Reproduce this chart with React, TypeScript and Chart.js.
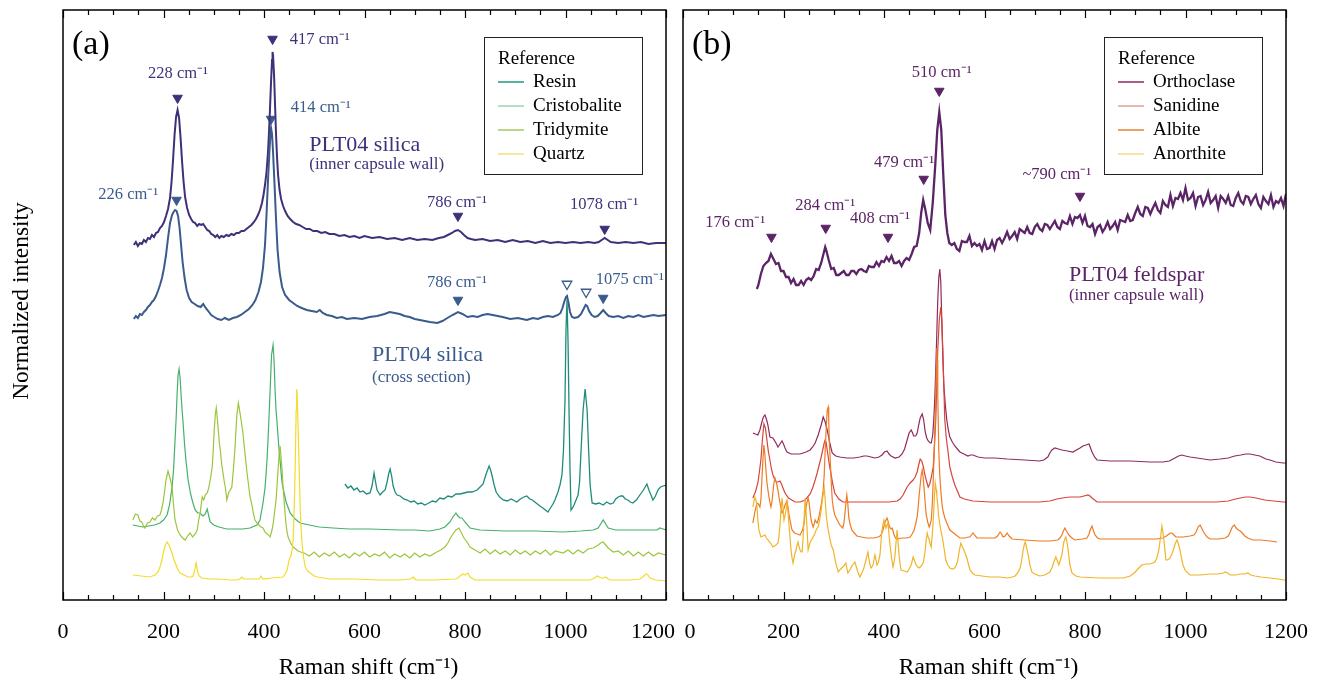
import React, { useEffect, useRef } from 'react';
import { Chart, registerables } from 'chart.js';
Chart.register(...registerables);

type P = [number, number];

// ---------- axis ----------
const xMajorTicks = [0, 200, 400, 600, 800, 1000, 1200];
const xTickLabels = ['0', '200', '400', '600', '800', '1000', '1200'];
const xMinorStep = 50;

// ---------- panel (a): silica ----------
const silicaInnerWall: P[] = [[141,355],[145,358],[149,354],[153,357],[157,356],[161,360],[165,358],[169,362],[173,361],[177,365],[181,363],[185,367],[189,368],[193,372],[197,374],[201,378],[205,384],[209,391],[213,402],[216,418],[219,440],[222,465],[225,483],[228,490],[231,482],[234,462],[237,438],[240,418],[243,403],[247,392],[251,385],[255,381],[259,378],[263,377],[267,374],[271,376],[275,375],[279,376],[283,373],[287,370],[291,369],[295,366],[299,365],[303,363],[307,365],[311,362],[315,364],[320,363],[325,365],[330,364],[335,366],[340,365],[345,367],[350,367],[355,369],[360,369],[365,371],[370,373],[375,375],[380,378],[384,381],[388,385],[392,390],[396,397],[399,405],[402,415],[405,428],[408,448],[410,468],[412,492],[414,518],[416,540],[417,548],[418,545],[420,525],[422,495],[424,465],[426,442],[428,425],[431,410],[434,401],[438,394],[442,389],[447,384],[452,381],[458,378],[464,376],[470,375],[477,373],[484,371],[491,371],[498,369],[506,369],[514,367],[522,368],[530,366],[540,366],[550,364],[560,365],[570,363],[580,364],[590,362],[600,364],[615,362],[630,363],[645,361],[660,362],[675,360],[690,362],[705,360],[720,361],[735,360],[748,362],[758,363],[766,365],[774,367],[780,369],[786,370],[792,368],[798,365],[805,362],[812,361],[820,360],[835,361],[850,359],[865,360],[880,358],[895,360],[910,358],[925,359],[940,357],[955,359],[970,357],[985,358],[1000,357],[1015,358],[1030,357],[1045,358],[1058,357],[1066,358],[1072,360],[1078,362],[1084,360],[1090,358],[1105,357],[1120,358],[1135,357],[1150,358],[1165,356],[1180,357],[1200,357]];

const silicaCrossSection: P[] = [[141,281],[145,284],[149,282],[153,286],[157,285],[161,288],[165,290],[169,293],[173,295],[177,298],[181,300],[185,304],[189,309],[193,315],[197,322],[201,332],[205,345],[209,362],[213,377],[217,385],[220,388],[223,390],[226,389],[229,384],[232,372],[235,355],[238,338],[242,322],[246,310],[251,302],[256,298],[262,296],[268,294],[274,293],[279,296],[284,292],[289,289],[295,285],[301,283],[308,281],[315,280],[322,282],[330,280],[338,282],[346,283],[354,285],[362,288],[370,291],[377,295],[383,300],[389,308],[394,318],[398,332],[402,355],[405,385],[408,420],[411,450],[413,468],[414,472],[416,466],[418,448],[421,415],[424,380],[427,350],[431,328],[436,313],[442,305],[450,300],[458,297],[466,294],[475,292],[485,290],[495,289],[505,288],[511,290],[517,287],[525,285],[535,284],[545,282],[555,283],[565,281],[580,282],[595,281],[610,283],[625,284],[640,286],[650,288],[660,287],[670,286],[680,284],[690,283],[700,281],[710,280],[720,279],[730,278],[745,277],[755,279],[765,282],[775,285],[786,288],[795,286],[805,283],[815,284],[825,283],[835,285],[845,286],[855,285],[865,284],[875,283],[890,281],[905,282],[923,280],[935,282],[945,281],[955,283],[965,284],[975,283],[985,285],[990,287],[994,292],[998,299],[1001,303],[1003,304],[1006,297],[1009,288],[1013,283],[1018,282],[1025,283],[1031,286],[1036,291],[1040,295],[1043,294],[1047,289],[1052,285],[1058,283],[1064,284],[1070,287],[1075,290],[1080,287],[1086,284],[1095,283],[1105,284],[1115,282],[1125,284],[1135,283],[1145,285],[1155,283],[1165,284],[1175,285],[1185,284],[1200,285]];

const resin: P[] = [[561,116],[567,112],[573,114],[579,110],[585,112],[591,108],[597,109],[604,106],[611,107],[615,114],[619,127],[622,118],[625,110],[631,105],[636,108],[641,110],[645,118],[648,126],[651,131],[654,124],[657,114],[661,108],[665,105],[671,104],[678,101],[685,100],[692,98],[699,99],[706,96],[713,97],[720,95],[728,97],[735,99],[742,98],[750,102],[758,101],[766,104],[774,103],[782,106],[790,106],[798,107],[806,108],[814,108],[824,110],[830,113],[836,116],[842,126],[848,134],[851,130],[854,124],[858,115],[862,108],[869,103],[876,100],[884,99],[892,101],[903,98],[910,101],[917,103],[923,104],[929,101],[934,100],[939,98],[944,96],[949,94],[955,92],[960,90],[965,88],[970,92],[975,96],[979,100],[985,108],[989,115],[993,125],[996,150],[999,200],[1001,270],[1003,300],[1005,260],[1007,190],[1009,130],[1011,90],[1014,92],[1017,95],[1021,100],[1025,105],[1028,118],[1031,150],[1035,190],[1039,211],[1043,190],[1046,150],[1049,115],[1053,97],[1060,96],[1067,97],[1075,95],[1082,98],[1089,96],[1095,97],[1100,101],[1105,103],[1110,104],[1114,104],[1119,101],[1124,100],[1129,98],[1134,97],[1141,100],[1148,105],[1155,110],[1162,116],[1166,110],[1170,105],[1174,100],[1179,104],[1184,110],[1189,113],[1194,114],[1200,115]];

const cristobalite: P[] = [[139,75],[149,74],[159,73],[170,74],[182,75],[193,77],[200,80],[207,85],[212,95],[217,113],[220,130],[223,160],[225,180],[227,205],[229,225],[231,231],[233,222],[235,205],[237,190],[239,177],[242,155],[245,138],[249,120],[254,106],[258,98],[263,90],[268,87],[273,87],[276,85],[279,84],[283,86],[287,91],[290,84],[293,78],[300,75],[310,73],[326,71],[342,71],[358,71],[372,72],[386,75],[392,80],[398,97],[402,112],[404,125],[406,140],[408,160],[411,195],[413,220],[415,245],[418,255],[420,240],[422,210],[424,190],[426,177],[430,150],[436,117],[444,98],[452,87],[462,81],[472,77],[490,75],[510,73],[537,72],[570,71],[610,71],[671,70],[700,70],[730,69],[750,71],[760,73],[770,78],[776,83],[782,87],[786,84],[790,82],[794,82],[800,78],[810,72],[830,70],[880,69],[940,69],[995,68],[1030,69],[1055,70],[1065,72],[1070,76],[1075,80],[1080,76],[1085,72],[1100,70],[1140,70],[1182,70],[1188,72],[1194,71],[1200,70]];

const tridymite: P[] = [[139,80],[144,86],[149,85],[153,79],[157,78],[160,74],[163,72],[168,77],[173,78],[178,82],[183,80],[188,84],[193,85],[196,90],[199,97],[202,108],[205,120],[209,129],[213,122],[217,113],[220,95],[223,80],[228,70],[233,65],[238,62],[243,60],[248,64],[253,67],[258,63],[263,66],[267,70],[270,80],[273,87],[277,103],[280,100],[283,105],[287,107],[290,112],[293,120],[297,133],[299,150],[301,170],[303,185],[305,192],[307,182],[309,170],[311,158],[313,150],[316,135],[319,125],[321,118],[323,113],[326,100],[328,104],[330,108],[333,110],[336,113],[339,130],[342,150],[344,168],[346,185],[349,197],[352,188],[355,178],[358,167],[361,152],[364,138],[366,128],[368,120],[372,104],[376,95],[379,86],[382,80],[386,77],[390,75],[394,73],[398,72],[402,68],[406,66],[409,65],[412,63],[415,68],[418,75],[421,88],[424,100],[426,115],[428,130],[430,145],[432,154],[434,142],[436,130],[438,112],[440,100],[442,86],[444,75],[446,68],[448,63],[453,57],[458,53],[463,51],[468,49],[473,48],[480,47],[490,44],[500,48],[510,43],[520,47],[530,44],[540,48],[550,43],[560,46],[570,42],[580,47],[590,44],[600,48],[610,43],[620,46],[630,44],[640,48],[650,42],[660,46],[671,43],[680,46],[690,42],[700,47],[710,43],[720,46],[730,44],[744,48],[752,50],[760,53],[766,57],[770,61],[776,66],[782,70],[788,72],[793,67],[798,62],[804,58],[810,53],[820,50],[830,47],[840,51],[850,46],[860,50],[870,46],[880,49],[890,45],[900,50],[910,46],[920,49],[930,45],[940,49],[950,46],[960,50],[970,45],[980,49],[995,47],[1005,50],[1015,46],[1025,50],[1035,47],[1045,51],[1055,52],[1065,55],[1070,57],[1075,58],[1080,55],[1085,52],[1095,48],[1105,49],[1115,45],[1125,49],[1135,44],[1145,48],[1155,44],[1165,48],[1175,44],[1185,47],[1200,45]];

const quartz: P[] = [[139,25],[156,24],[173,23],[183,25],[189,28],[193,33],[197,40],[200,48],[203,54],[207,58],[211,55],[214,51],[217,47],[221,40],[225,35],[229,30],[233,27],[241,25],[249,23],[255,23],[259,24],[262,30],[265,37],[268,28],[271,24],[276,22],[290,21],[310,21],[332,20],[345,20],[352,21],[356,23],[360,21],[375,21],[390,21],[394,24],[398,21],[415,22],[438,23],[442,26],[446,30],[450,40],[454,45],[456,50],[458,60],[460,90],[462,130],[464,190],[465,211],[466,205],[468,170],[470,130],[472,93],[474,70],[476,55],[479,42],[482,33],[487,29],[492,27],[500,24],[506,23],[530,21],[580,21],[630,20],[671,20],[691,21],[697,23],[702,20],[740,20],[780,21],[786,22],[790,24],[796,26],[800,25],[803,26],[806,27],[810,23],[820,20],[900,20],[1000,20],[1049,20],[1058,22],[1063,24],[1067,23],[1071,22],[1076,22],[1080,23],[1085,21],[1090,20],[1130,20],[1148,21],[1154,23],[1160,26],[1164,25],[1168,22],[1180,20],[1200,19]];

const innerWallPeaks: P[] = [[228,502],[417,561],[786,384],[1078,371]];
const crossPeaksFilled: P[] = [[226,400],[414,481],[786,300],[1075,302]];
const crossPeaksOpen: P[] = [[1003,316],[1041,308]];

// ---------- panel (b): feldspar ----------
const feldsparInnerWall: P[] = [[147,311],[150,315],[155,326],[160,334],[165,337],[170,339],[175,346],[180,341],[185,336],[190,337],[195,329],[200,329],[205,323],[210,323],[215,317],[220,321],[225,315],[230,315],[235,319],[240,315],[245,320],[250,322],[255,320],[260,324],[265,331],[270,330],[275,337],[280,347],[283,353],[285,350],[290,340],[295,331],[300,332],[305,325],[310,325],[315,327],[320,329],[325,325],[330,325],[335,329],[340,329],[345,326],[350,330],[355,331],[360,329],[365,328],[370,334],[375,333],[380,333],[385,338],[390,334],[395,339],[400,338],[405,343],[410,339],[415,344],[420,337],[425,337],[430,339],[435,334],[440,339],[445,342],[450,340],[455,346],[460,353],[465,354],[470,367],[474,387],[478,400],[482,391],[487,377],[492,370],[497,397],[502,435],[506,470],[510,488],[514,470],[518,425],[522,385],[526,367],[530,357],[535,355],[540,357],[545,351],[550,349],[555,359],[560,358],[565,358],[570,364],[575,354],[580,357],[585,354],[590,356],[595,350],[600,359],[605,351],[610,352],[615,359],[620,351],[625,360],[630,362],[635,357],[640,362],[645,368],[650,361],[655,364],[660,368],[665,361],[670,371],[675,369],[680,367],[685,373],[690,367],[695,366],[700,373],[705,376],[710,371],[715,369],[720,376],[725,375],[730,371],[735,375],[740,379],[745,373],[750,371],[755,379],[760,377],[765,376],[770,384],[775,376],[780,383],[785,382],[790,385],[795,377],[800,384],[805,374],[810,373],[815,376],[820,366],[825,373],[830,375],[835,368],[840,372],[845,378],[850,371],[855,374],[860,378],[865,370],[870,380],[875,379],[880,378],[885,385],[890,379],[895,380],[900,387],[905,393],[910,386],[915,384],[920,393],[925,392],[930,386],[935,392],[940,397],[945,390],[950,387],[955,399],[960,395],[965,393],[970,405],[975,394],[980,402],[985,401],[990,407],[995,400],[1000,412],[1005,400],[1010,402],[1015,407],[1020,394],[1025,403],[1030,404],[1035,395],[1040,400],[1045,408],[1050,397],[1055,400],[1060,404],[1065,392],[1070,404],[1075,401],[1080,397],[1085,404],[1090,395],[1095,394],[1100,402],[1105,407],[1110,399],[1115,396],[1120,404],[1125,403],[1130,396],[1135,401],[1140,405],[1145,396],[1150,392],[1155,403],[1160,399],[1165,396],[1170,405],[1175,393],[1180,399],[1185,397],[1190,402],[1195,394],[1200,406]];

const orthoclase: P[] = [[139,167],[149,165],[153,170],[157,178],[160,183],[163,185],[166,181],[169,175],[173,163],[179,162],[185,157],[189,153],[193,156],[197,159],[200,156],[203,152],[207,148],[215,146],[233,146],[245,148],[253,150],[258,153],[263,157],[269,165],[275,175],[279,183],[283,178],[287,170],[293,155],[297,147],[304,144],[312,143],[326,142],[340,142],[352,143],[360,144],[366,144],[374,143],[382,142],[390,143],[396,145],[401,148],[406,149],[410,146],[414,144],[422,142],[430,143],[436,146],[441,151],[446,160],[450,167],[454,170],[457,167],[459,164],[463,164],[466,167],[469,175],[472,182],[476,186],[479,180],[482,168],[485,162],[488,159],[492,157],[494,157],[497,165],[499,180],[501,200],[503,230],[505,265],[507,300],[509,322],[511,331],[513,318],[515,280],[517,245],[519,215],[522,195],[525,180],[528,170],[531,163],[536,158],[541,154],[546,151],[551,148],[559,146],[567,144],[572,145],[577,145],[582,144],[587,143],[600,142],[620,142],[645,141],[680,140],[710,139],[718,140],[726,143],[730,147],[734,150],[740,152],[747,151],[754,150],[765,149],[776,148],[783,150],[790,152],[796,154],[802,155],[808,156],[811,152],[814,148],[819,143],[824,140],[850,139],[890,139],[930,138],[955,138],[968,139],[979,142],[986,144],[993,145],[1000,144],[1009,143],[1023,142],[1036,141],[1049,140],[1069,141],[1085,142],[1098,144],[1110,145],[1120,146],[1128,146],[1138,145],[1148,144],[1160,141],[1168,140],[1180,138],[1194,137],[1200,137]];

const sanidine: P[] = [[139,102],[144,108],[149,117],[152,128],[155,140],[158,160],[161,176],[164,172],[167,160],[170,148],[173,140],[176,131],[179,125],[183,120],[186,118],[189,118],[193,119],[196,116],[199,112],[203,107],[210,102],[223,98],[233,98],[243,100],[253,106],[258,112],[263,120],[267,127],[271,135],[275,143],[278,150],[281,157],[283,160],[285,157],[287,150],[289,143],[292,133],[295,125],[298,116],[302,107],[310,101],[318,98],[340,98],[378,98],[410,98],[426,99],[432,101],[438,105],[442,109],[446,113],[452,117],[458,120],[462,123],[466,128],[469,135],[472,141],[475,139],[478,134],[481,126],[484,120],[488,113],[491,116],[494,122],[496,128],[498,133],[500,150],[503,180],[505,215],[507,250],[510,280],[513,293],[515,280],[517,250],[519,215],[521,180],[524,162],[527,150],[531,133],[536,123],[541,115],[546,109],[551,103],[560,101],[577,99],[611,98],[660,98],[710,98],[730,99],[744,101],[755,102],[770,103],[780,103],[790,103],[798,104],[806,105],[810,104],[814,102],[824,98],[870,98],[950,98],[1020,98],[1063,98],[1085,99],[1100,101],[1109,102],[1120,103],[1128,103],[1140,102],[1158,100],[1175,99],[1194,98],[1200,98]];

const albite: P[] = [[139,77],[143,88],[147,97],[150,96],[153,93],[155,100],[157,120],[159,140],[161,155],[163,145],[165,130],[167,118],[169,110],[172,100],[175,93],[177,98],[179,108],[181,117],[183,122],[186,117],[189,110],[192,100],[195,92],[197,87],[200,90],[203,95],[205,97],[207,99],[209,93],[211,85],[214,77],[217,70],[222,67],[227,66],[233,65],[238,70],[241,77],[243,87],[245,93],[247,98],[249,102],[251,97],[253,88],[255,80],[257,76],[259,73],[261,76],[263,80],[265,78],[267,77],[270,82],[273,90],[276,98],[279,110],[281,125],[283,150],[285,172],[287,190],[289,193],[290,180],[291,160],[293,140],[295,118],[297,100],[299,92],[302,85],[307,80],[312,75],[318,72],[320,76],[322,85],[324,96],[326,105],[328,96],[330,82],[333,75],[336,70],[341,67],[346,64],[355,63],[365,62],[372,62],[380,62],[388,63],[392,64],[395,66],[398,70],[400,74],[402,78],[404,80],[406,82],[408,79],[410,75],[412,72],[414,71],[416,72],[418,69],[420,65],[423,62],[426,61],[435,62],[445,62],[452,63],[456,66],[460,70],[463,76],[466,83],[468,93],[470,105],[472,115],[474,125],[476,130],[478,122],[480,110],[482,97],[484,85],[487,78],[490,73],[492,76],[494,80],[496,95],[498,120],[500,150],[502,183],[504,230],[505,252],[506,240],[507,205],[509,150],[511,125],[513,110],[515,98],[517,90],[521,82],[525,77],[531,70],[541,66],[551,62],[561,62],[568,63],[571,63],[574,65],[577,67],[580,65],[585,62],[600,62],[621,62],[626,64],[631,68],[634,66],[637,63],[641,64],[645,67],[649,64],[655,61],[680,60],[710,59],[730,59],[746,60],[750,62],[754,65],[757,69],[760,72],[763,69],[768,65],[774,62],[780,60],[795,61],[804,62],[808,66],[811,71],[814,74],[817,69],[820,65],[825,62],[830,61],[870,61],[910,61],[943,61],[955,62],[962,64],[967,66],[970,67],[973,67],[977,65],[981,63],[995,63],[1009,64],[1017,65],[1021,68],[1025,73],[1029,75],[1033,71],[1037,67],[1043,63],[1049,61],[1065,61],[1079,62],[1085,64],[1089,68],[1093,73],[1097,75],[1101,72],[1105,70],[1109,69],[1113,67],[1118,64],[1124,62],[1134,60],[1150,60],[1168,59],[1182,58]];

const anorthite: P[] = [[139,93],[141,98],[143,103],[145,100],[147,95],[149,80],[151,70],[155,63],[159,64],[163,65],[166,62],[169,60],[174,57],[179,53],[182,54],[185,55],[189,57],[191,64],[193,75],[195,90],[197,102],[199,92],[201,80],[203,84],[205,90],[207,98],[209,88],[211,75],[213,62],[215,50],[217,42],[219,37],[222,45],[225,50],[227,55],[229,58],[231,53],[233,50],[235,48],[237,48],[239,62],[241,80],[243,102],[245,88],[247,70],[249,50],[252,56],[255,60],[257,61],[259,63],[262,66],[265,70],[267,72],[269,73],[272,80],[275,90],[278,102],[281,112],[283,100],[285,85],[287,77],[289,70],[292,62],[295,55],[299,50],[302,42],[305,35],[309,28],[312,30],[316,32],[320,34],[324,37],[326,32],[328,27],[332,30],[336,34],[339,36],[342,38],[345,33],[348,28],[352,23],[356,27],[360,32],[364,40],[368,48],[371,38],[374,32],[376,33],[378,35],[380,40],[382,45],[384,40],[386,35],[389,38],[392,45],[394,58],[396,70],[398,76],[400,80],[402,76],[404,72],[406,75],[408,77],[410,65],[412,55],[415,42],[418,33],[420,38],[422,45],[424,58],[426,70],[428,58],[430,45],[432,36],[434,30],[440,29],[446,28],[450,31],[454,35],[456,39],[458,43],[461,39],[464,35],[467,33],[470,32],[474,34],[478,37],[480,43],[482,50],[484,60],[486,67],[488,63],[490,60],[492,56],[494,53],[496,65],[498,80],[500,100],[502,117],[504,110],[505,105],[507,95],[509,83],[511,76],[513,70],[515,65],[517,60],[520,50],[523,40],[527,35],[531,32],[536,31],[541,32],[544,35],[547,40],[550,50],[553,57],[556,53],[559,50],[562,46],[565,42],[568,36],[571,30],[576,27],[581,25],[595,24],[611,23],[630,23],[645,22],[655,23],[661,24],[666,27],[671,32],[674,40],[677,50],[679,55],[681,58],[684,52],[687,45],[690,36],[694,28],[700,26],[710,24],[720,25],[730,28],[734,32],[738,38],[742,43],[745,39],[748,35],[751,40],[754,45],[756,52],[758,58],[760,61],[762,63],[764,58],[766,52],[768,43],[770,35],[774,27],[782,24],[790,23],[830,22],[876,22],[890,24],[900,28],[907,32],[913,35],[921,36],[929,36],[935,37],[939,38],[943,42],[947,50],[949,58],[951,65],[953,74],[955,68],[957,60],[959,50],[961,40],[964,40],[967,41],[969,42],[973,46],[977,52],[980,57],[983,60],[986,56],[989,50],[992,42],[995,35],[1000,29],[1009,25],[1030,25],[1049,26],[1065,26],[1075,27],[1079,28],[1084,27],[1089,25],[1100,25],[1109,26],[1118,26],[1124,27],[1130,25],[1138,24],[1150,23],[1168,22],[1185,21],[1194,20],[1200,20]];

const feldsparPeaks: P[] = [[176,363],[284,372],[408,363],[479,421],[510,509],[790,404]];

// ---------- colours ----------
const C = {
  inner: '#40307a',
  cross: '#3a5b8c',
  resin: '#1f8c7a',
  cristobalite: '#46b06a',
  tridymite: '#9cc53c',
  quartz: '#f2dc2a',
  feldspar: '#5b2466',
  orthoclase: '#8e2a5e',
  sanidine: '#d6453a',
  albite: '#ee7b25',
  anorthite: '#f0b429',
};

const SERIF = '"Liberation Serif", "Times New Roman", serif';

type TextItem = { t: string; x: number; y: number; c: string; s: number; a?: CanvasTextAlign };

const textsA: TextItem[] = [
  { t: '(a)', x: 18, y: 555, c: '#000', s: 34, a: 'left' },
  { t: 'PLT04 silica', x: 490, y: 455, c: C.inner, s: 22, a: 'left' },
  { t: '(inner capsule wall)', x: 490, y: 435, c: C.inner, s: 17, a: 'left' },
  { t: 'PLT04 silica', x: 615, y: 245, c: C.cross, s: 22, a: 'left' },
  { t: '(cross section)', x: 615, y: 222, c: C.cross, s: 17, a: 'left' },
  { t: '228 cm⁻¹', x: 229, y: 526, c: C.inner, s: 16.5 },
  { t: '417 cm⁻¹', x: 511, y: 560, c: C.inner, s: 16.5 },
  { t: '786 cm⁻¹', x: 784, y: 397, c: C.inner, s: 16.5 },
  { t: '1078 cm⁻¹', x: 1077, y: 395, c: C.inner, s: 16.5 },
  { t: '226 cm⁻¹', x: 130, y: 405, c: C.cross, s: 16.5 },
  { t: '414 cm⁻¹', x: 513, y: 492, c: C.cross, s: 16.5 },
  { t: '786 cm⁻¹', x: 784, y: 317, c: C.cross, s: 16.5 },
  { t: '1075 cm⁻¹', x: 1128, y: 320, c: C.cross, s: 16.5 },
];

const textsB: TextItem[] = [
  { t: '(b)', x: 18, y: 555, c: '#000', s: 34, a: 'left' },
  { t: 'PLT04 feldspar', x: 768, y: 325, c: C.feldspar, s: 22, a: 'left' },
  { t: '(inner capsule wall)', x: 768, y: 304, c: C.feldspar, s: 17, a: 'left' },
  { t: '176 cm⁻¹', x: 104, y: 377, c: C.feldspar, s: 16.5 },
  { t: '284 cm⁻¹', x: 283, y: 394, c: C.feldspar, s: 16.5 },
  { t: '408 cm⁻¹', x: 392, y: 381, c: C.feldspar, s: 16.5 },
  { t: '479 cm⁻¹', x: 440, y: 437, c: C.feldspar, s: 16.5 },
  { t: '510 cm⁻¹', x: 515, y: 527, c: C.feldspar, s: 16.5 },
  { t: '~790 cm⁻¹', x: 744, y: 425, c: C.feldspar, s: 16.5 },
];

const legendA = [
  { label: 'Resin', color: '#1f9a80' },
  { label: 'Cristobalite', color: '#9dd5ae' },
  { label: 'Tridymite', color: '#a6c95f' },
  { label: 'Quartz', color: '#f3e27c' },
];
const legendB = [
  { label: 'Orthoclase', color: '#8e2a5e' },
  { label: 'Sanidine', color: '#e0a098' },
  { label: 'Albite', color: '#e8803a' },
  { label: 'Anorthite', color: '#f5d88a' },
];

const line = (data: P[], color: string, width: number) => ({
  data: data.map(([x, y]) => ({ x, y })),
  borderColor: color,
  backgroundColor: color,
  borderWidth: width,
  pointRadius: 0,
  tension: 0,
  fill: false,
});

const markers = (data: P[], color: string, hollow = false) => ({
  data: data.map(([x, y]) => ({ x, y })),
  showLine: false,
  borderColor: color,
  backgroundColor: color,
  pointStyle: 'triangle',
  pointRotation: 180,
  pointRadius: 5.5,
  pointBackgroundColor: hollow ? '#ffffff' : color,
  pointBorderColor: color,
  pointBorderWidth: hollow ? 1.3 : 1,
});

const decor = {
  id: 'decor',
  afterDraw(chart: any, _args: any, opts: any) {
    const { ctx, chartArea: a, scales } = chart;
    const xs = scales.x;
    const ys = scales.y;
    ctx.save();
    ctx.strokeStyle = '#000';
    ctx.lineWidth = 1.5;
    ctx.strokeRect(a.left, a.top, a.right - a.left, a.bottom - a.top);
    ctx.lineWidth = 1.2;
    for (let v = xs.min; v <= xs.max; v += xMinorStep) {
      const px = Math.round(xs.getPixelForValue(v)) + 0.5;
      const len = v % 200 === 0 ? 8 : 5;
      ctx.beginPath();
      ctx.moveTo(px, a.bottom);
      ctx.lineTo(px, a.bottom - len);
      ctx.moveTo(px, a.top);
      ctx.lineTo(px, a.top + len);
      ctx.stroke();
    }
    ctx.fillStyle = '#000';
    ctx.font = `22px ${SERIF}`;
    ctx.textAlign = 'center';
    ctx.textBaseline = 'middle';
    xMajorTicks.forEach((v, i) => {
      const shift = (opts.labelShift && opts.labelShift[i]) || 0;
      ctx.fillText(xTickLabels[i], xs.getPixelForValue(v) + shift, a.bottom + 32);
    });
    ctx.font = `23.5px ${SERIF}`;
    ctx.fillText('Raman shift (cm⁻¹)', (a.left + a.right) / 2 + 4, a.bottom + 68);
    if (opts.yTitle) {
      ctx.save();
      ctx.translate(22, (a.top + a.bottom) / 2 - 4);
      ctx.rotate(-Math.PI / 2);
      ctx.fillText(opts.yTitle, 0, 0);
      ctx.restore();
    }
    (opts.texts as TextItem[]).forEach((t) => {
      ctx.fillStyle = t.c;
      ctx.font = `${t.s}px ${SERIF}`;
      ctx.textAlign = t.a || 'center';
      ctx.textBaseline = 'middle';
      ctx.fillText(t.t, xs.getPixelForValue(t.x), ys.getPixelForValue(t.y));
    });
    const L = opts.legend;
    const bx = a.left + 421;
    const by = 37;
    ctx.fillStyle = '#fff';
    ctx.fillRect(bx, by, 158, 137);
    ctx.strokeStyle = '#222';
    ctx.lineWidth = 1;
    ctx.strokeRect(bx + 0.5, by + 0.5, 158, 137);
    ctx.fillStyle = '#000';
    ctx.font = `19px ${SERIF}`;
    ctx.textAlign = 'left';
    ctx.textBaseline = 'middle';
    ctx.fillText('Reference', bx + 14, by + 22);
    L.forEach((it: any, i: number) => {
      const yy = by + 45 + i * 24;
      ctx.strokeStyle = it.color;
      ctx.lineWidth = 1.5;
      ctx.beginPath();
      ctx.moveTo(bx + 14, yy);
      ctx.lineTo(bx + 40, yy);
      ctx.stroke();
      ctx.fillStyle = '#000';
      ctx.fillText(it.label, bx + 49, yy);
    });
    ctx.restore();
  },
};

function makeConfig(datasets: any[], pad: any, decorOpts: any): any {
  return {
    type: 'line',
    data: { datasets },
    options: {
      responsive: false,
      animation: false,
      events: [],
      layout: { padding: pad },
      scales: {
        x: { type: 'linear', min: 0, max: 1200, display: false },
        y: { type: 'linear', min: 0, max: 590, display: false },
      },
      plugins: { legend: { display: false }, tooltip: { enabled: false }, decor: decorOpts },
    },
    plugins: [decor],
  };
}

export default function App() {
  const refA = useRef<HTMLCanvasElement>(null);
  const refB = useRef<HTMLCanvasElement>(null);

  useEffect(() => {
    const chartA = new Chart(
      refA.current as HTMLCanvasElement,
      makeConfig(
        [
          line(quartz, C.quartz, 1.2),
          line(tridymite, C.tridymite, 1.2),
          line(cristobalite, C.cristobalite, 1.2),
          line(resin, C.resin, 1.3),
          line(silicaCrossSection, C.cross, 2),
          line(silicaInnerWall, C.inner, 2),
          markers(innerWallPeaks, C.inner),
          markers(crossPeaksFilled, C.cross),
          markers(crossPeaksOpen, C.cross, true),
        ],
        { left: 63, right: 10, top: 10, bottom: 85 },
        { texts: textsA, legend: legendA, yTitle: 'Normalized intensity', labelShift: [0, 0, 0, 0, 0, 0, -13] }
      )
    );
    const chartB = new Chart(
      refB.current as HTMLCanvasElement,
      makeConfig(
        [
          line(anorthite, C.anorthite, 1.2),
          line(albite, C.albite, 1.2),
          line(sanidine, C.sanidine, 1.2),
          line(orthoclase, C.orthoclase, 1.2),
          line(feldsparInnerWall, C.feldspar, 2.3),
          markers(feldsparPeaks, C.feldspar),
        ],
        { left: 7, right: 32, top: 10, bottom: 85 },
        { texts: textsB, legend: legendB, labelShift: [7, 0, 0, 0, 0, 0, 0] }
      )
    );
    return () => {
      chartA.destroy();
      chartB.destroy();
    };
  }, []);

  return (
    <div style={{ position: 'fixed', left: 0, top: 0, width: 1318, height: 685, background: '#fff' }}>
      <canvas ref={refA} width={676} height={685} style={{ position: 'absolute', left: 0, top: 0 }} />
      <canvas ref={refB} width={642} height={685} style={{ position: 'absolute', left: 676, top: 0 }} />
    </div>
  );
}
